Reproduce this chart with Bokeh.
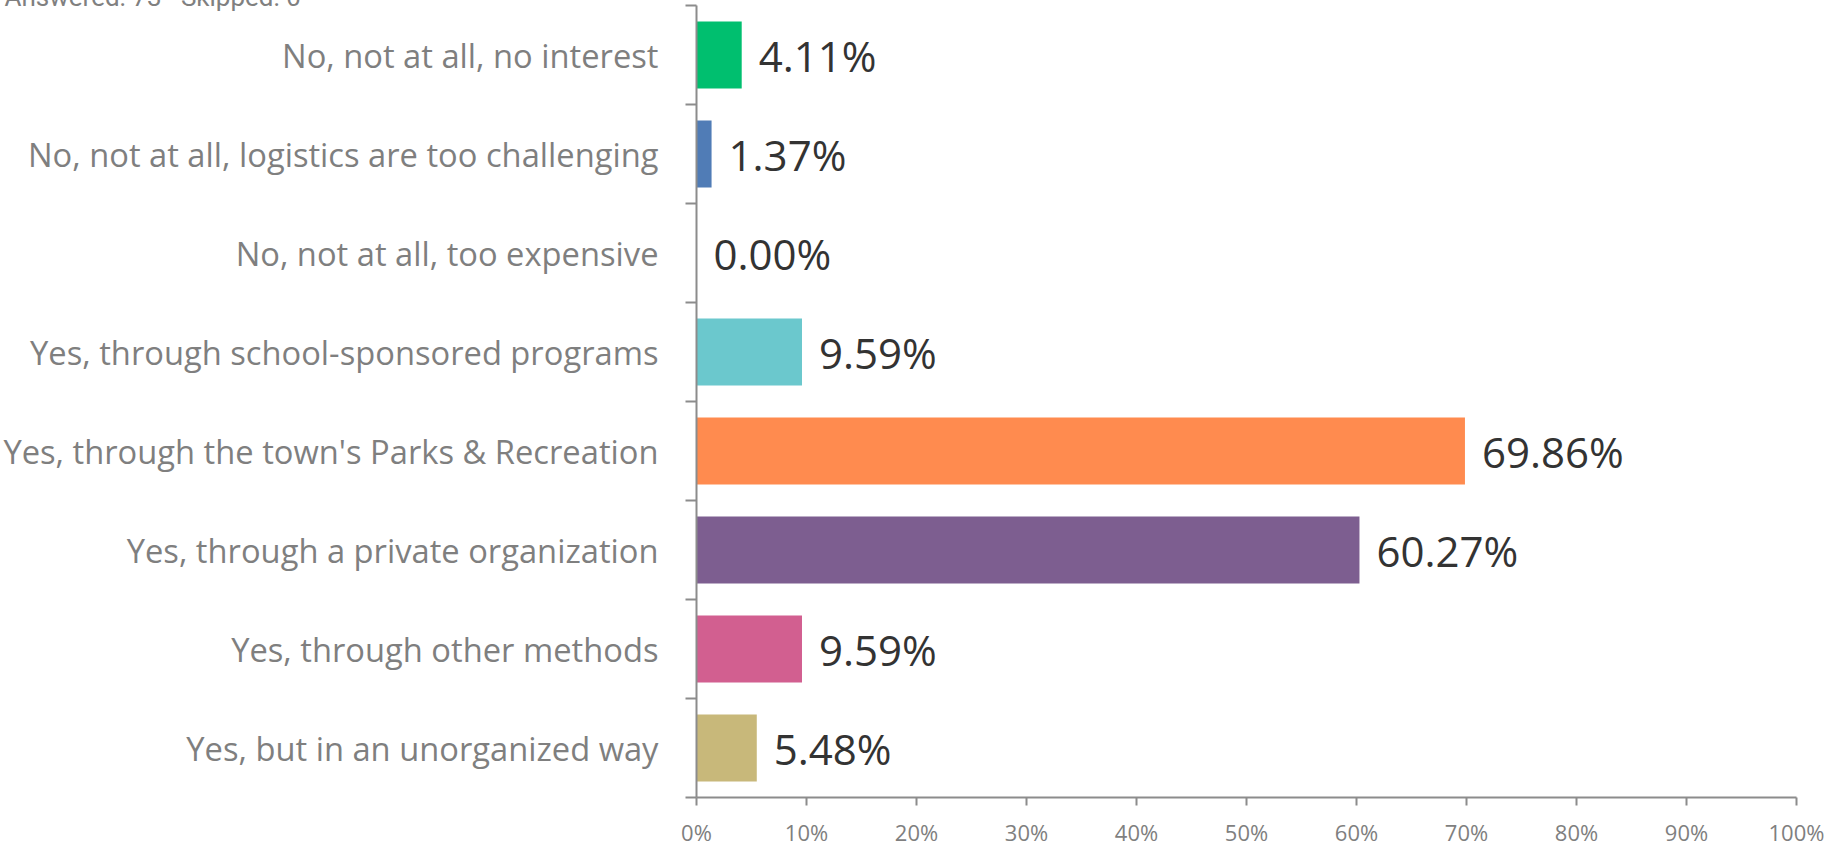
from bokeh.plotting import figure
from bokeh.models import Range1d, FixedTicker, ColumnDataSource
from bokeh.core.properties import value
from bokeh.embed import file_html
from bokeh.resources import INLINE

categories = [
    "No, not at all, no interest",
    "No, not at all, logistics are too challenging",
    "No, not at all, too expensive",
    "Yes, through school-sponsored programs",
    "Yes, through the town's Parks & Recreation",
    "Yes, through a private organization",
    "Yes, through other methods",
    "Yes, but in an unorganized way",
]
percent_values = [4.11, 1.37, 0.00, 9.59, 69.86, 60.27, 9.59, 5.48]
bar_colors = ["#00bf6f", "#507cb6", "#f9be00", "#6bc8cd", "#ff8b4f", "#7d5e90", "#d25f90", "#c8b87a"]
x_ticks = [0, 10, 20, 30, 40, 50, 60, 70, 80, 90, 100]
x_tick_labels = ["0%", "10%", "20%", "30%", "40%", "50%", "60%", "70%", "80%", "90%", "100%"]
header_text = "Answered: 73\u00a0\u00a0\u00a0Skipped: 0"

n = len(categories)
ypos = [n - i for i in range(n)]  # top to bottom
value_labels = [f"{v:.2f}%" for v in percent_values]

VIEW_H = 849
W = 1835
ML, MR, MB = 697, 38, 52
TOP_BORDER = 40            # room for the (mostly cut off) header line
FRAME_TOP = 5              # frame top inside the window
SHIFT = TOP_BORDER - FRAME_TOP
H = VIEW_H + SHIFT

p = figure(width=W, height=H, output_backend="svg", toolbar_location=None,
           x_range=Range1d(0, 100), y_range=Range1d(0.5, n + 0.5),
           min_border_left=ML, min_border_right=MR, min_border_top=TOP_BORDER, min_border_bottom=MB)
p.styles = {"margin-top": f"-{SHIFT}px", "margin-left": "-1.5px", "margin-bottom": "-8px", "margin-right": "-4px"}
p.outline_line_color = None
p.xgrid.visible = False
p.ygrid.visible = False
p.background_fill_color = "white"
p.border_fill_color = "white"

# header
p.title.text = header_text
p.title.align = "left"
p.title.offset = 5 - ML
p.title.standoff = -12
p.title.text_font = "Roboto"
p.title.text_font_size = "26px"
p.title.text_font_style = "normal"
p.title.text_color = "#808080"

src = ColumnDataSource(dict(y=ypos, v=percent_values, c=bar_colors, lab=value_labels))
p.hbar(y="y", right="v", left=0, height=0.677, fill_color="c", line_color=None, source=src)
p.text(x="v", y="y", text="lab", x_offset=17, text_align="left", text_baseline="middle",
       text_font=value("Open Sans"), text_font_size="42px", text_color="#333333", source=src)

# y axis
ya = p.yaxis[0]
ya.ticker = FixedTicker(ticks=ypos, minor_ticks=[k + 0.5 for k in range(n + 1)])
ya.major_label_overrides = {y: c for y, c in zip(ypos, categories)}
ya.major_tick_out = 0
ya.major_tick_in = 0
ya.minor_tick_out = 11
ya.minor_tick_in = 0
ya.minor_tick_line_color = "#8c8c8c"
ya.minor_tick_line_width = 2
ya.axis_line_color = "#8c8c8c"
ya.axis_line_width = 2
ya.major_label_standoff = 27
ya.major_label_text_font = "Open Sans"
ya.major_label_text_font_size = "32.7px"
ya.major_label_text_color = "#7f7f7f"

# x axis
xa = p.xaxis[0]
xa.ticker = FixedTicker(ticks=x_ticks, minor_ticks=[])
xa.major_label_overrides = {t: l for t, l in zip(x_ticks, x_tick_labels)}
xa.major_label_standoff = 11
xa.axis_label_standoff = 0
xa.major_tick_out = 8
xa.major_tick_in = 0
xa.major_tick_line_color = "#8c8c8c"
xa.major_tick_line_width = 2
xa.axis_line_color = "#8c8c8c"
xa.axis_line_width = 2
xa.major_label_text_font = "Open Sans"
xa.major_label_text_font_size = "22px"
xa.major_label_text_color = "#7f7f7f"

open("out.html", "w").write(file_html(p, INLINE))
